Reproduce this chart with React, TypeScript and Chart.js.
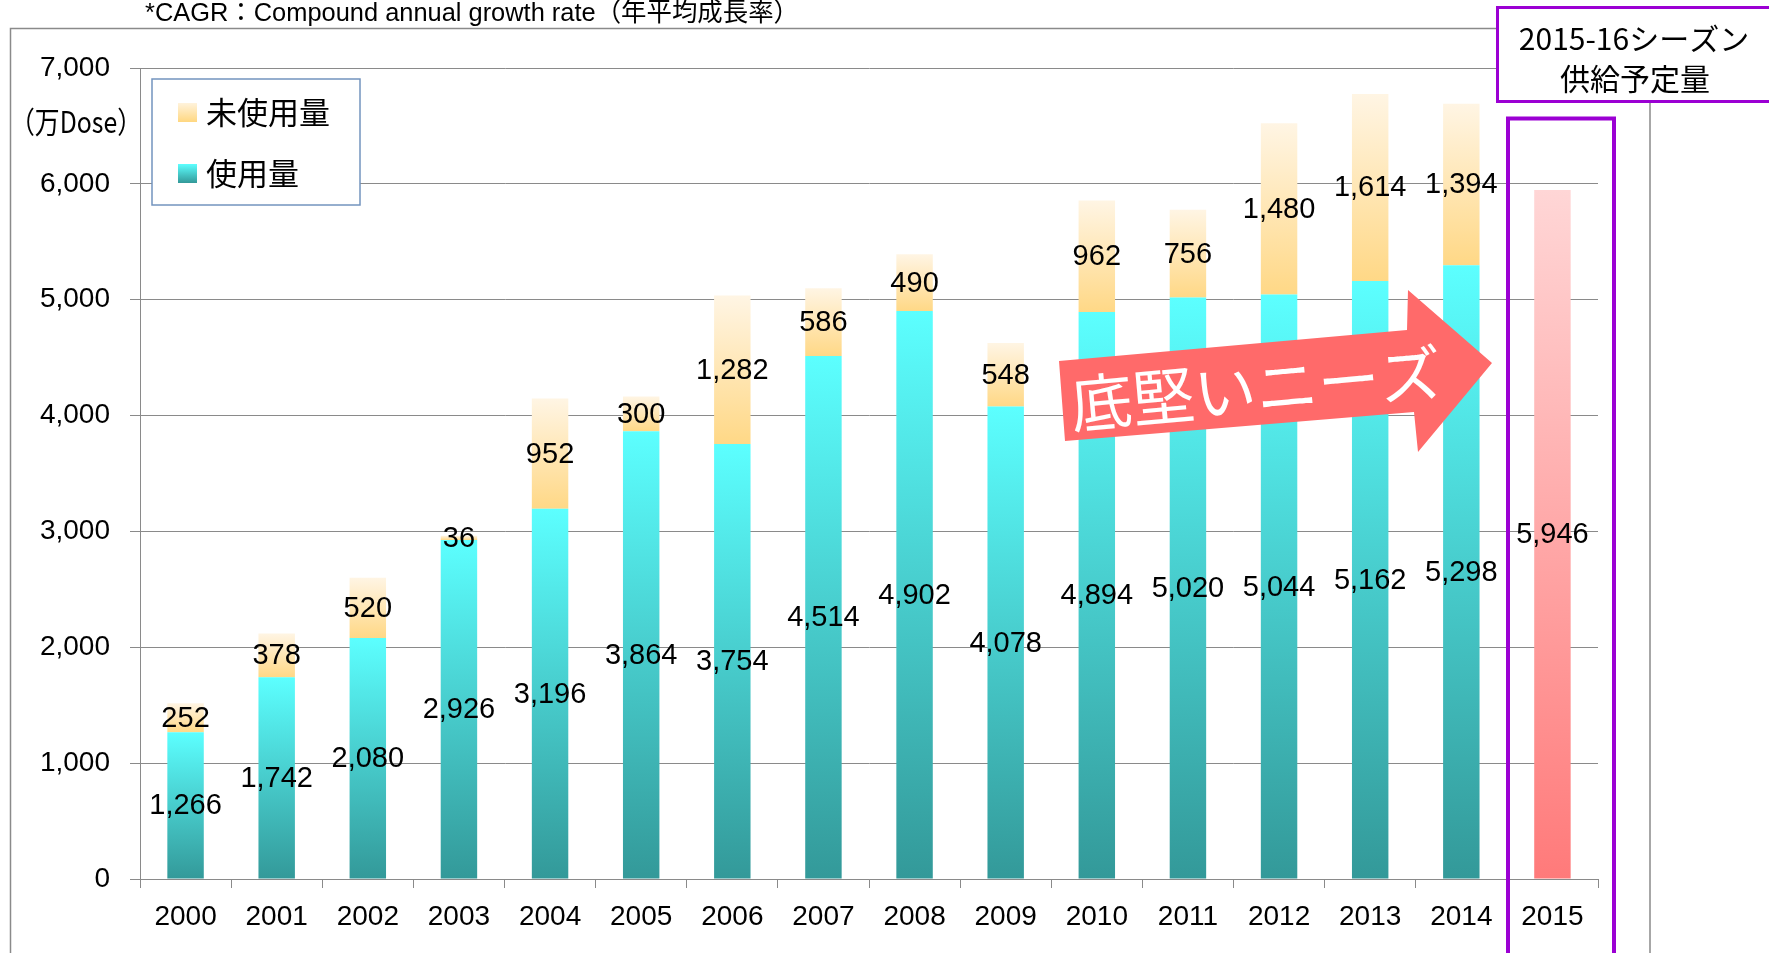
import React, { useEffect, useRef } from 'react';
import { Chart, registerables } from 'chart.js';

Chart.register(...registerables);

const years = ['2000', '2001', '2002', '2003', '2004', '2005', '2006', '2007', '2008', '2009', '2010', '2011', '2012', '2013', '2014', '2015'];
const usedValues = [1266, 1742, 2080, 2926, 3196, 3864, 3754, 4514, 4902, 4078, 4894, 5020, 5044, 5162, 5298, null];
const unusedValues = [252, 378, 520, 36, 952, 300, 1282, 586, 490, 548, 962, 756, 1480, 1614, 1394, null];
const supplyValues = [null, null, null, null, null, null, null, null, null, null, null, null, null, null, null, 5946];
const yMin = 0;
const yMax = 7000;
const yStep = 1000;
const legendLabels = ['未使用量', '使用量'];
const noteText = '*CAGR：Compound annual growth rate（年平均成長率）';
const boxLines = ['2015-16シーズン', '供給予定量'];
const arrowText = '底堅いニーズ';
const yUnit = '（万Dose）';

const W = 1769;
const H = 953;
const NUM_FONT = '"Liberation Sans", Arial, "Noto Sans CJK JP", sans-serif';
const JP_FONT = '"Noto Sans CJK JP", "Liberation Sans", sans-serif';
const PURPLE = '#9B00D3';
const GRAY = '#8A8A8A';

function segGradient(top: string, bottom: string, range: (i: number) => [number, number] | null) {
  return (c: any) => {
    const chart = c.chart;
    const y = chart.scales && chart.scales.y;
    if (c.type !== 'data' || !y || c.dataIndex == null) return bottom;
    const r = range(c.dataIndex);
    if (!r) return bottom;
    const y0 = y.getPixelForValue(r[0]);
    const y1 = y.getPixelForValue(r[1]);
    if (!isFinite(y0) || !isFinite(y1) || y0 === y1) return bottom;
    const g = chart.ctx.createLinearGradient(0, y0, 0, y1);
    g.addColorStop(0, bottom);
    g.addColorStop(1, top);
    return g;
  };
}

const overlay = {
  id: 'overlay',
  afterDatasetsDraw(chart: any) {
    const ctx = chart.ctx as CanvasRenderingContext2D;
    // arrow
    ctx.save();
    ctx.fillStyle = '#FF6A6A';
    ctx.beginPath();
    ctx.moveTo(1059, 361);
    ctx.lineTo(1407, 330);
    ctx.lineTo(1408, 290);
    ctx.lineTo(1492, 363);
    ctx.lineTo(1418, 452);
    ctx.lineTo(1414, 412);
    ctx.lineTo(1065, 441);
    ctx.closePath();
    ctx.fill();
    ctx.translate(1256, 388);
    ctx.rotate((-5.1 * Math.PI) / 180);
    ctx.fillStyle = '#FFFFFF';
    ctx.font = `62px ${JP_FONT}`;
    ctx.textAlign = 'center';
    ctx.textBaseline = 'middle';
    ctx.fillText(arrowText, 0, 0);
    ctx.restore();

    // data labels
    ctx.save();
    ctx.fillStyle = '#000';
    ctx.font = `29px ${NUM_FONT}`;
    ctx.textAlign = 'center';
    ctx.textBaseline = 'middle';
    chart.data.datasets.forEach((ds: any, di: number) => {
      const meta = chart.getDatasetMeta(di);
      meta.data.forEach((el: any, i: number) => {
        const v = ds.data[i];
        if (v == null) return;
        const p = el.getProps(['x', 'y', 'base'], true);
        ctx.fillText(Number(v).toLocaleString('en-US'), p.x, (p.y + p.base) / 2 + 1);
      });
    });
    ctx.restore();
  },
  afterDraw(chart: any) {
    const ctx = chart.ctx as CanvasRenderingContext2D;
    ctx.save();
    // outer gray frame
    ctx.strokeStyle = GRAY;
    ctx.lineWidth = 1.5;
    ctx.beginPath();
    ctx.moveTo(10.5, H);
    ctx.lineTo(10.5, 28.5);
    ctx.lineTo(1497, 28.5);
    ctx.stroke();
    ctx.beginPath();
    ctx.moveTo(1650, 102);
    ctx.lineTo(1650, H);
    ctx.stroke();

    // note text
    ctx.fillStyle = '#000';
    ctx.font = `26px ${NUM_FONT}`;
    ctx.textAlign = 'left';
    ctx.textBaseline = 'middle';
    ctx.fillText(noteText, 145, 14, 654);

    // y unit
    ctx.font = `30px ${JP_FONT}`;
    ctx.textAlign = 'center';
    ctx.fillText(yUnit, 76, 122, 132);

    // legend
    ctx.fillStyle = '#FFFFFF';
    ctx.fillRect(152, 79, 208, 126);
    ctx.strokeStyle = '#7394BE';
    ctx.lineWidth = 1.5;
    ctx.strokeRect(152, 79, 208, 126);
    const sw = [
      { y: 103, top: '#FFF3DC', bottom: '#FFD780' },
      { y: 164, top: '#5CFFFF', bottom: '#339999' },
    ];
    sw.forEach((s, i) => {
      const g = ctx.createLinearGradient(0, s.y, 0, s.y + 19);
      g.addColorStop(0, s.top);
      g.addColorStop(1, s.bottom);
      ctx.fillStyle = g;
      ctx.fillRect(178, s.y, 19, 19);
      ctx.fillStyle = '#000';
      ctx.font = `31px ${JP_FONT}`;
      ctx.textAlign = 'left';
      ctx.textBaseline = 'middle';
      ctx.fillText(legendLabels[i], 206, s.y + 9);
    });

    // top-right box
    ctx.fillStyle = '#FFFFFF';
    ctx.fillRect(1497, 7, 300, 95);
    ctx.strokeStyle = PURPLE;
    ctx.lineWidth = 3;
    ctx.strokeRect(1497.5, 7.5, 300, 94);
    ctx.fillStyle = '#000';
    ctx.font = `30px ${JP_FONT}`;
    ctx.textAlign = 'center';
    ctx.textBaseline = 'middle';
    ctx.fillText(boxLines[0], 1634, 39);
    ctx.fillText(boxLines[1], 1635, 79);

    // 2015 highlight rectangle
    ctx.lineWidth = 4;
    ctx.strokeRect(1508, 118.5, 106, 900);
    ctx.restore();
  },
};

export default function App() {
  const ref = useRef<HTMLCanvasElement>(null);
  useEffect(() => {
    if (!ref.current) return;
    const chart = new Chart(ref.current, {
      type: 'bar',
      data: {
        labels: years,
        datasets: [
          {
            label: legendLabels[1],
            data: usedValues,
            backgroundColor: segGradient('#5CFFFF', '#339999', (i) =>
              usedValues[i] == null ? null : [0, usedValues[i] as number]
            ),
            barPercentage: 0.4,
            categoryPercentage: 1,
          },
          {
            label: legendLabels[0],
            data: unusedValues,
            backgroundColor: segGradient('#FFF5E4', '#FFD886', (i) =>
              unusedValues[i] == null
                ? null
                : [usedValues[i] as number, (usedValues[i] as number) + (unusedValues[i] as number)]
            ),
            barPercentage: 0.4,
            categoryPercentage: 1,
          },
          {
            label: '供給予定量',
            data: supplyValues,
            backgroundColor: segGradient('#FFD6D6', '#FF7A7A', (i) =>
              supplyValues[i] == null ? null : [0, supplyValues[i] as number]
            ),
            barPercentage: 0.4,
            categoryPercentage: 1,
          },
        ],
      },
      options: {
        animation: false,
        responsive: false,
        maintainAspectRatio: false,
        devicePixelRatio: 1,
        layout: { padding: { top: 68, right: W - 1598, bottom: 0, left: 0 } },
        plugins: {
          legend: { display: false },
          tooltip: { enabled: false },
        },
        scales: {
          x: {
            stacked: true,
            grid: {
              display: true,
              drawOnChartArea: false,
              drawTicks: true,
              tickLength: 9,
              color: GRAY,
              offset: true,
            },
            border: { color: GRAY, width: 1 },
            ticks: {
              color: '#000',
              font: { size: 28, family: NUM_FONT },
              padding: 12,
              maxRotation: 0,
              autoSkip: false,
            },
            afterFit: (s: any) => {
              s.height = H - 879;
            },
          },
          y: {
            stacked: true,
            min: yMin,
            max: yMax,
            grid: { color: GRAY, lineWidth: 1, tickLength: 10, drawTicks: true },
            border: { color: GRAY, width: 1 },
            ticks: {
              stepSize: yStep,
              color: '#000',
              font: { size: 28, family: NUM_FONT },
              padding: 20,
              callback: (v: any) => Number(v).toLocaleString('en-US'),
            },
            afterFit: (s: any) => {
              s.width = 140;
            },
          },
        },
      },
      plugins: [overlay],
    });
    return () => chart.destroy();
  }, []);
  return (
    <div style={{ position: 'absolute', left: 0, top: 0, width: W, height: H, background: '#fff' }}>
      <canvas ref={ref} width={W} height={H} style={{ display: 'block', width: W, height: H }} />
    </div>
  );
}
